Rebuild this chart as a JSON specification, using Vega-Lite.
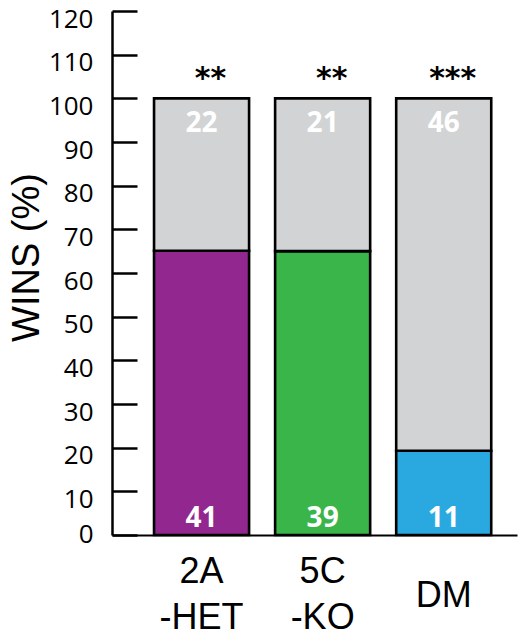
{
  "$schema": "https://vega.github.io/schema/vega-lite/v6.json",
  "autosize": "none",
  "padding": {"left": 112, "top": 11, "right": 8, "bottom": 107},
  "width": 405,
  "height": 524,
  "background": "white",
  "config": {"view": {"stroke": null}},
  "data": {
    "values": [
      {"group": "2A -HET", "part": "2A -HET", "outcome": "win", "pct": 65.1, "n": 41, "rank": 1, "sig": "**"},
      {"group": "2A -HET", "part": "loss", "outcome": "loss", "pct": 34.9, "n": 22, "rank": 2, "sig": ""},
      {"group": "5C -KO", "part": "5C -KO", "outcome": "win", "pct": 65.0, "n": 39, "rank": 1, "sig": "**"},
      {"group": "5C -KO", "part": "loss", "outcome": "loss", "pct": 35.0, "n": 21, "rank": 2, "sig": ""},
      {"group": "DM", "part": "DM", "outcome": "win", "pct": 19.3, "n": 11, "rank": 1, "sig": "***"},
      {"group": "DM", "part": "loss", "outcome": "loss", "pct": 80.7, "n": 46, "rank": 2, "sig": ""}
    ]
  },
  "resolve": {"axis": {"y": "independent"}},
  "encoding": {
    "x": {
      "field": "group",
      "type": "nominal",
      "sort": ["2A -HET", "5C -KO", "DM"],
      "scale": {"paddingInner": 0.215, "paddingOuter": 0.28, "align": 0.62},
      "axis": {
        "title": null,
        "labelAngle": 0,
        "labelExpr": "split(datum.label, ' ')",
        "labelFont": "Liberation Sans",
        "labelFontSize": 36,
        "labelLineHeight": 46,
        "labelColor": "black",
        "labelBaseline": "middle",
        "labelPadding": {"condition": {"test": "datum.value == 'DM'", "value": 60}, "value": 36},
        "ticks": false,
        "tickSize": 0,
        "domainColor": "black",
        "domainWidth": 2
      }
    }
  },
  "layer": [
    {
      "mark": {"type": "bar", "stroke": "black", "strokeWidth": 2.6},
      "encoding": {
        "y": {
          "field": "pct",
          "type": "quantitative",
          "stack": "zero",
          "scale": {"domain": [0, 120], "nice": false},
          "axis": {
            "title": "WINS (%)",
            "titleFont": "Liberation Sans",
            "titleFontSize": 38,
            "titleFontWeight": "normal",
            "titleColor": "black",
            "titleAngle": -90,
            "titleAlign": "center",
            "titleBaseline": "middle",
            "titleX": -85,
            "titleY": 246,
            "values": [0, 10, 20, 30, 40, 50, 60, 70, 80, 90, 100, 110, 120],
            "grid": false,
            "domainColor": "black",
            "domainWidth": 2.5,
            "ticks": false,
            "labelPadding": 19,
            "labelOffset": {"condition": {"test": "datum.value == 0", "value": -1}, "value": 8},
            "labelFont": "Open Sans",
            "labelFontSize": 26,
            "labelColor": "black"
          }
        },
        "color": {
          "field": "part",
          "type": "nominal",
          "scale": {"domain": ["2A -HET", "5C -KO", "DM", "loss"], "range": ["#91278f", "#3ab54a", "#29a9e0", "#d1d3d4"]},
          "legend": null
        },
        "order": {"field": "rank", "type": "quantitative"}
      }
    },
    {
      "transform": [{"filter": "datum.outcome == 'loss'"}],
      "mark": {"type": "text", "font": "Open Sans", "fontSize": 28, "fontWeight": "bold", "color": "white", "baseline": "middle", "dy": 26},
      "encoding": {
        "y": {
          "datum": 100,
          "type": "quantitative",
          "axis": {
            "orient": "right",
            "offset": -405,
            "title": null,
            "values": [0, 10, 20, 30, 40, 50, 60, 70, 80, 90, 100, 110, 120],
            "grid": false,
            "domain": false,
            "labels": false,
            "ticks": true,
            "tickSize": 25,
            "tickWidth": 2.5,
            "tickColor": "black"
          }
        },
        "text": {"field": "n", "type": "quantitative"}
      }
    },
    {
      "transform": [{"filter": "datum.outcome == 'win'"}],
      "mark": {"type": "text", "font": "Open Sans", "fontSize": 28, "fontWeight": "bold", "color": "white", "baseline": "middle", "dy": -16.5},
      "encoding": {
        "y": {"datum": 0, "type": "quantitative", "axis": null},
        "text": {"field": "n", "type": "quantitative"}
      }
    },
    {
      "transform": [{"filter": "datum.outcome == 'win'"}],
      "mark": {"type": "text", "font": "DejaVu Sans", "fontSize": 30, "fontWeight": "bold", "color": "black", "baseline": "middle", "dx": 9, "dy": -19},
      "encoding": {
        "y": {"datum": 100, "type": "quantitative", "axis": null},
        "text": {"field": "sig", "type": "nominal"}
      }
    }
  ]
}
